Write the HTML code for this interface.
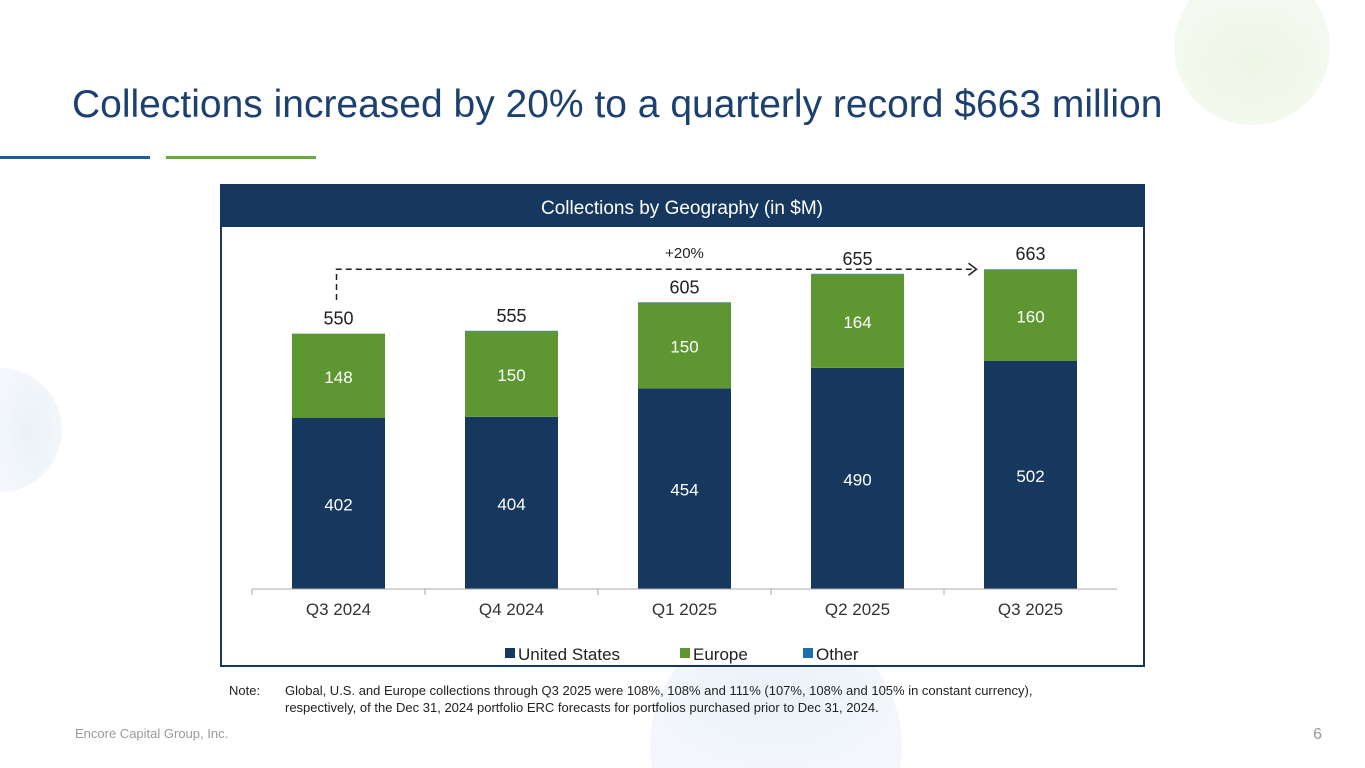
<!DOCTYPE html>
<html><head><meta charset="utf-8"><style>
html,body{margin:0;width:1365px;height:768px;overflow:hidden;background:#fff;font-family:"Liberation Sans",Arial,sans-serif}
body{position:relative}
.a{position:absolute;display:block;overflow:hidden}
</style></head><body>
<svg class="a" style="left:0;top:0" width="1365" height="768">
<defs>
<radialGradient id="gg" cx="50%" cy="50%" r="50%"><stop offset="0" stop-color="#eef6e6"/><stop offset="1" stop-color="#f3f9ee"/></radialGradient>
<radialGradient id="gb" cx="50%" cy="50%" r="50%"><stop offset="0" stop-color="#eaf1f8"/><stop offset="1" stop-color="#f3f7fb"/></radialGradient>
</defs>
<path d="M1189.8 0 A78 78 0 1 0 1314.2 0 Z" fill="url(#gg)"/>
<path d="M0 368 A62 62 0 0 1 0 492 Z" fill="url(#gb)"/>
<path d="M652.1 768 A126 126 0 1 1 899.9 768 Z" fill="url(#gb)"/>
<rect x="0" y="156" width="150" height="3" fill="#1a5f96"/>
<rect x="166" y="156" width="150" height="3" fill="#6aaa3a"/>
<text x="72" y="117" font-size="39" fill="#1c4170">Collections increased by 20% to a quarterly record $663 million</text>
<rect x="221" y="185" width="923" height="481" fill="#fff" stroke="#17385e" stroke-width="2"/>
<rect x="221" y="185" width="923" height="42" fill="#17385e"/>
<text x="682" y="214" font-size="19" fill="#fff" text-anchor="middle">Collections by Geography (in $M)</text>
<g id="chart"></g>
<text x="229" y="695" font-size="13" fill="#222">Note:</text>
<text x="285" y="695" font-size="13" fill="#222">Global, U.S. and Europe collections through Q3 2025 were 108%, 108% and 111% (107%, 108% and 105% in constant currency),</text>
<text x="285" y="712" font-size="13" fill="#222">respectively, of the Dec 31, 2024 portfolio ERC forecasts for portfolios purchased prior to Dec 31, 2024.</text>
<text x="75" y="738" font-size="13" fill="#9a9a9a">Encore Capital Group, Inc.</text>
<text x="1322" y="739" font-size="16" fill="#9a9a9a" text-anchor="end">6</text>
</svg>
<script>
const categories=["Q3 2024","Q4 2024","Q1 2025","Q2 2025","Q3 2025"];
const usValues=[402,404,454,490,502];
const europeValues=[148,150,150,164,160];
const otherValues=[0,1,1,1,1];
const totals=[550,555,605,655,663];
const growthLabel="+20%";
const NS="http://www.w3.org/2000/svg";
const g=document.getElementById('chart');
const x0=252,bw=173,barW=93,base=589,vmin=102,scale=0.57;
function xc(i){return x0+bw*(i+0.5);}
function y(v){return base-(v-vmin)*scale;}
function mk(t,a){const e=document.createElementNS(NS,t);for(const k in a)e.setAttribute(k,a[k]);g.appendChild(e);return e;}
function tx(x,yy,s,size,fill){const e=mk('text',{x:x,y:yy,'font-size':size,fill:fill,'text-anchor':'middle'});e.textContent=s;return e;}
categories.forEach((c,i)=>{
 const cx=xc(i),l=cx-barW/2;
 const uTop=y(usValues[i]);
 const eTop=y(usValues[i]+europeValues[i]);
 const oTop=y(usValues[i]+europeValues[i]+otherValues[i]);
 let r=mk('rect',{x:l,y:uTop,width:barW,height:base-uTop,fill:'#17385e'});
 
 
 r=mk('rect',{x:l,y:eTop,width:barW,height:uTop-eTop,fill:'#5e9732'});
 
 
 r=mk('rect',{x:l,y:oTop,width:barW,height:Math.max(eTop-oTop,0),fill:'#1a6fae'});
 
 
 let t=tx(cx,(uTop+base)/2+7,String(usValues[i]),17,'#fff');
 
 
 t=tx(cx,(eTop+uTop)/2+7,String(europeValues[i]),17,'#fff');
 
 
 t=tx(cx,oTop-9,String(totals[i]),18,'#222');
 
 
 t=tx(cx,615,c,17,'#333');
 
 
 const tk=mk('line',{x1:x0+bw*i,x2:x0+bw*i,y1:589,y2:595,stroke:'#aaa'});
 
 
});
let ax=mk('line',{x1:x0,x2:x0+bw*5,y1:base,y2:base,stroke:'#aaa'});


const endTop=y(totals[4]);
let p=mk('path',{d:`M${xc(0)-2} 300 V${endTop} H${xc(4)-55}`,fill:'none',stroke:'#222','stroke-width':1.5,'stroke-dasharray':'6,4'});


p=mk('path',{d:`M${xc(4)-62} ${endTop-6} L${xc(4)-54} ${endTop} L${xc(4)-62} ${endTop+6}`,fill:'none',stroke:'#222','stroke-width':1.5});


let gt=tx(xc(2),258,growthLabel,15,'#222');


const legend=[["United States","#17385e",505],["Europe","#5e9732",680],["Other","#1a6fae",803]];
legend.forEach((l,i)=>{
 const r=mk('rect',{x:l[2],y:648,width:10,height:10,fill:l[1]});
 
 
 const t=mk('text',{x:l[2]+13,y:660,'font-size':17,fill:'#222'});t.textContent=l[0];
 
 
});
</script>
</body></html>
